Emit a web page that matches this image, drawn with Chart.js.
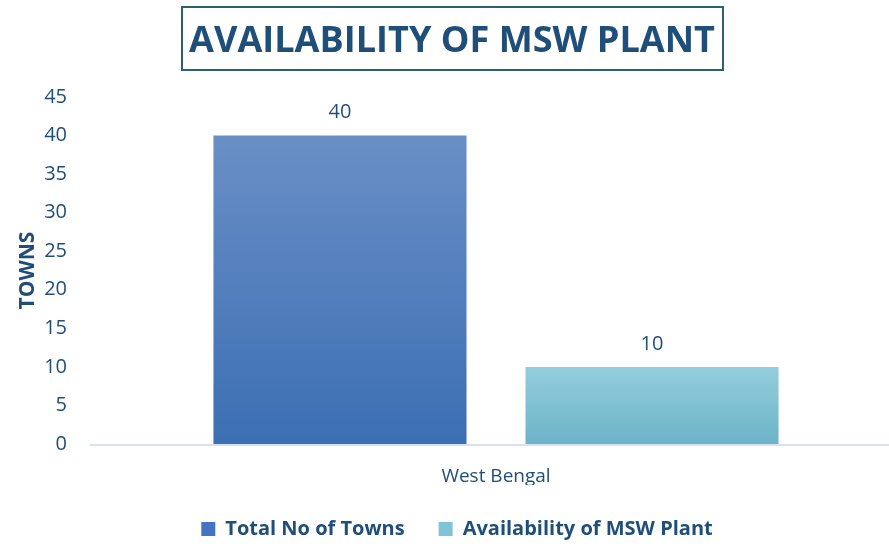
<!DOCTYPE html>
<html>
  <head>
    <meta charset="utf-8">
    <title>Availability of MSW Plant</title>
    <script src="https://cdn.jsdelivr.net/npm/chart.js@4.4.0/dist/chart.umd.min.js"></script>
    <style>
      html, body { margin: 0; padding: 0; background: #ffffff; }
      #wrap { width: 889px; height: 546px; }
    </style>
  </head>
  <body>
    <div id="wrap"><canvas id="mswChart"></canvas></div>

<script>
// chart data
const states = ['West Bengal'];
const seriesNames = ['Total No of Towns', 'Availability of MSW Plant'];
const totalTowns = [40];
const mswPlants = [10];
const yTicks = [0, 5, 10, 15, 20, 25, 30, 35, 40, 45];

const titleText = 'AVAILABILITY OF MSW PLANT';
const navy = '#1F4E79';

// top / bottom colours of each bar's vertical fade
const fades = [
  ['#6A8FC6', '#3B6FB3'],
  ['#93CEDD', '#6CB4C9']
];
const legendColors = ['#4472C4', '#7FC4D6'];

function barFade(i) {
  return function (ctx) {
    const chart = ctx.chart;
    if (!chart.chartArea || ctx.type !== 'data') return legendColors[i];
    const y = chart.scales.y;
    const top = y.getPixelForValue(ctx.parsed.y);
    const bottom = y.getPixelForValue(0);
    const g = chart.ctx.createLinearGradient(0, top, 0, bottom);
    g.addColorStop(0, fades[i][0]);
    g.addColorStop(1, fades[i][1]);
    return g;
  };
}

// boxed heading, light base line and the value above each bar
const decorations = {
  id: 'decorations',
  afterDraw(chart) {
    const c = chart.ctx;
    c.save();

    // heading, sized to fill its box
    let size = 38;
    c.font = 'bold ' + size + 'px "Open Sans"';
    const w = c.measureText(titleText).width;
    size = size * 526 / w;
    c.font = 'bold ' + size + 'px "Open Sans"';
    c.strokeStyle = '#2E6170';
    c.lineWidth = 2;
    c.strokeRect(182, 7, 541, 63);
    c.fillStyle = navy;
    c.textAlign = 'center';
    c.textBaseline = 'middle';
    c.fillText(titleText, 452, 42);

    // base line
    const y0 = chart.scales.y.getPixelForValue(0);
    c.strokeStyle = '#D6E1F1';
    c.lineWidth = 2;
    c.beginPath();
    c.moveTo(90, y0 + 1);
    c.lineTo(chart.chartArea.right, y0 + 1);
    c.stroke();

    // values
    c.font = '20px "Open Sans"';
    c.fillStyle = navy;
    chart.data.datasets.forEach((ds, i) => {
      chart.getDatasetMeta(i).data.forEach((bar, j) => {
        c.fillText(String(ds.data[j]), bar.x, bar.y - 23);
      });
    });
    c.restore();
  }
};

new Chart(document.getElementById('mswChart'), {
  type: 'bar',
  data: {
    labels: states,
    datasets: [
      { label: seriesNames[0], data: totalTowns, backgroundColor: barFade(0) },
      { label: seriesNames[1], data: mswPlants, backgroundColor: barFade(1) }
    ]
  },
  options: {
    responsive: true,
    maintainAspectRatio: false,
    animation: false,
    layout: { padding: { top: 97, left: 25, right: 0, bottom: -3 } },
    categoryPercentage: 0.794,
    barPercentage: 0.811,
    scales: {
      x: {
        grid: { display: false },
        border: { display: false },
        ticks: { color: navy, font: { family: 'Open Sans', size: 19 }, padding: 13 },
        afterFit(scale) { scale.height = 41; }
      },
      y: {
        min: 0,
        max: 45,
        grid: { display: false, drawTicks: false },
        border: { display: false },
        afterBuildTicks(scale) { scale.ticks = yTicks.map(v => ({ value: v })); },
        ticks: { color: navy, font: { family: 'Open Sans', size: 20 }, padding: 36 },
        title: {
          display: true,
          text: 'TOWNS',
          color: navy,
          font: { family: 'Open Sans', size: 21, weight: 'bold' },
          padding: { top: -10, bottom: 0 }
        },
        afterFit(scale) { scale.width = 78; }
      }
    },
    plugins: {
      title: { display: false },
      tooltip: { enabled: false },
      legend: {
        position: 'bottom',
        labels: {
          color: navy,
          boxWidth: 14,
          boxHeight: 14,
          padding: 34,
          font: { family: 'Open Sans', size: 20, weight: 'bold' },
          generateLabels(chart) {
            return chart.data.datasets.map((ds, i) => ({
              text: ds.label,
              fillStyle: legendColors[i],
              strokeStyle: legendColors[i],
              lineWidth: 0,
              fontColor: navy,
              datasetIndex: i
            }));
          }
        }
      }
    }
  },
  plugins: [decorations]
});
</script>
  </body>
</html>
